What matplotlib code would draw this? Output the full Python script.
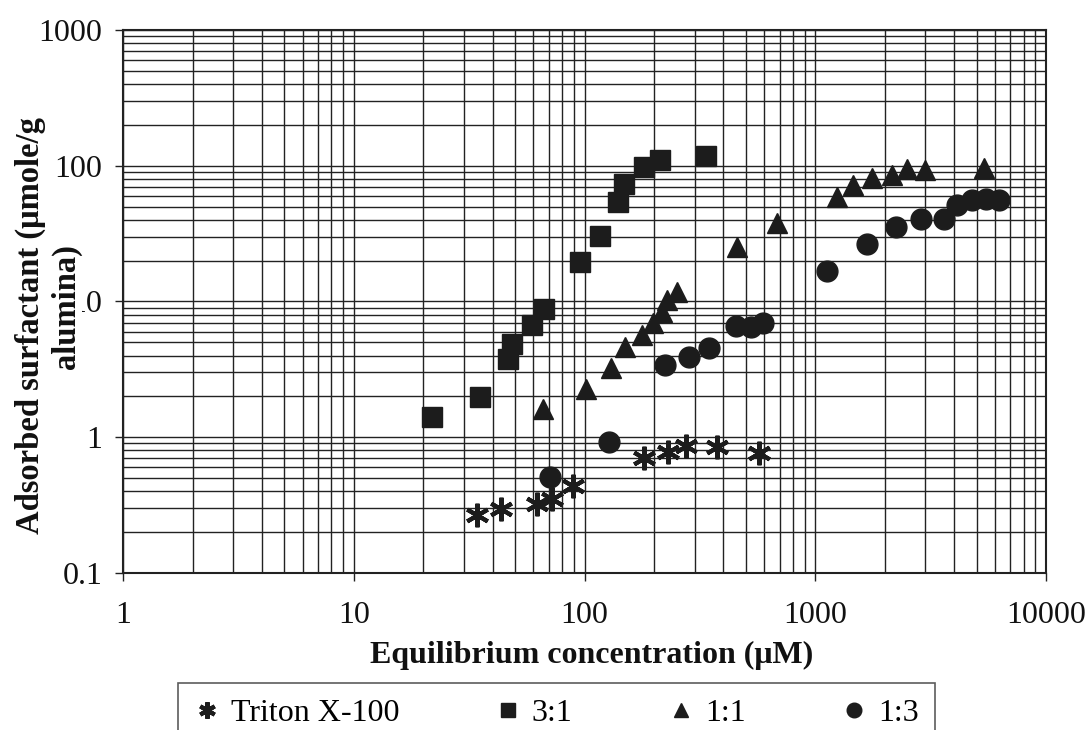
import matplotlib
matplotlib.use('Agg')
import matplotlib.pyplot as plt
from matplotlib.ticker import FixedLocator, LogLocator, NullFormatter

# Equilibrium concentration (uM) and adsorbed amount (umole/g alumina)
triton_x = [34.2, 43.5, 62.3, 72.3, 89.2, 181, 230, 275, 375, 571]
triton_y = [0.268, 0.296, 0.322, 0.351, 0.437, 0.703, 0.779, 0.862, 0.847, 0.766]

r31_x = [21.8, 35.3, 46.6, 48.5, 59.2, 66.8, 95.6, 116.7, 139.7, 148.4, 181, 212, 336]
r31_y = [1.41, 1.98, 3.77, 4.86, 6.71, 8.81, 19.5, 30.4, 54.1, 73.4, 97.9, 110, 118]

r11_x = [66.1, 101.5, 130.2, 149.8, 177.5, 198, 216.7, 227.9, 251.7,
         458, 683, 1243, 1457, 1762, 2151, 2498, 2989, 5386]
r11_y = [1.61, 2.27, 3.24, 4.62, 5.67, 6.94, 8.37, 10.3, 11.7,
         25.2, 37.9, 58.9, 72.2, 81.2, 85.5, 94.6, 92.4, 96.2]

r13_x = [70.9, 127.7, 223.3, 283.8, 346.4, 453.5, 526.6, 593.7, 1124,
         1676, 2238, 2873, 3614, 4115, 4779, 5495, 6256]
r13_y = [0.51, 0.92, 3.41, 3.90, 4.54, 6.60, 6.49, 6.94, 16.8,
         26.5, 35.4, 40.5, 40.5, 51.4, 55.9, 56.9, 55.9]

x_ticks = [1, 10, 100, 1000, 10000]
x_labels = ['1', '10', '100', '1000', '10000']
y_ticks = [0.1, 1, 10, 100, 1000]
y_labels = ['0.1', '1', '10', '100', '1000']

plt.rcParams['font.family'] = ['Liberation Serif', 'DejaVu Serif']

fig = plt.figure(figsize=(10.86, 7.30), dpi=100)
ax = fig.add_axes([0.1133, 0.2151, 0.8499, 0.7438])

ax.set_xscale('log')
ax.set_yscale('log')
ax.set_xlim(1, 10000)
ax.set_ylim(0.1, 1000)

ink = '#1c1c1c'
ax.plot(triton_x, triton_y, ls='none', marker=(6, 2, 0), ms=17, mew=3.0,
        color=ink, label='Triton X-100', zorder=3)
ax.plot(r31_x, r31_y, ls='none', marker='s', ms=14, color=ink, label='3:1', zorder=3)
ax.plot(r11_x, r11_y, ls='none', marker='^', ms=15, color=ink, label='1:1', zorder=3)
ax.plot(r13_x, r13_y, ls='none', marker='o', ms=15, color=ink, label='1:3', zorder=3)

ax.xaxis.set_major_locator(FixedLocator(x_ticks))
ax.set_xticklabels(x_labels)
ax.yaxis.set_major_locator(FixedLocator(y_ticks))
ax.set_yticklabels(y_labels)
ax.xaxis.set_minor_locator(LogLocator(base=10, subs=range(2, 10)))
ax.yaxis.set_minor_locator(LogLocator(base=10, subs=range(2, 10)))
ax.xaxis.set_minor_formatter(NullFormatter())
ax.yaxis.set_minor_formatter(NullFormatter())

ax.grid(True, which='both', color='#222222', lw=1.0)
ax.set_axisbelow(True)
ax.tick_params(which='major', direction='out', length=6, width=1.0, colors='#222222',
               labelsize=23, labelcolor='#111111')
ax.tick_params(axis='x', which='major', pad=14)
ax.tick_params(axis='y', which='major', pad=9)
ax.tick_params(which='minor', length=0)
for s in ax.spines.values():
    s.set_linewidth(1.5)
    s.set_color('#222222')

fig.text(0.545, 1 - 655 / 730, 'Equilibrium concentration (μM)', ha='center', va='center',
         fontsize=23, fontweight='bold', color='#111111')

# y label as two separate lines; the second one sits over the "10" tick label
fig.text(30 / 1086, 1 - 325 / 730, 'Adsorbed surfactant (μmole/g', ha='center', va='center',
         rotation=90, fontsize=23.5, fontweight='bold', color='#111111')
fig.text(66 / 1086, 1 - 307 / 730, 'alumina)', ha='center', va='center',
         rotation=90, fontsize=23.5, fontweight='bold', color='#111111',
         bbox=dict(facecolor='white', edgecolor='none', pad=0), zorder=5)

leg = fig.legend(loc='upper center', bbox_to_anchor=(0.5124, 1 - 683 / 730), ncol=4,
                 fontsize=23, markerscale=0.7, frameon=True, fancybox=False,
                 edgecolor='#333333', handlelength=0.8, handletextpad=0.35,
                 columnspacing=3.0, borderpad=0.5, borderaxespad=0)
leg.get_frame().set_linewidth(1.2)

fig.savefig('out.png', dpi=100)
